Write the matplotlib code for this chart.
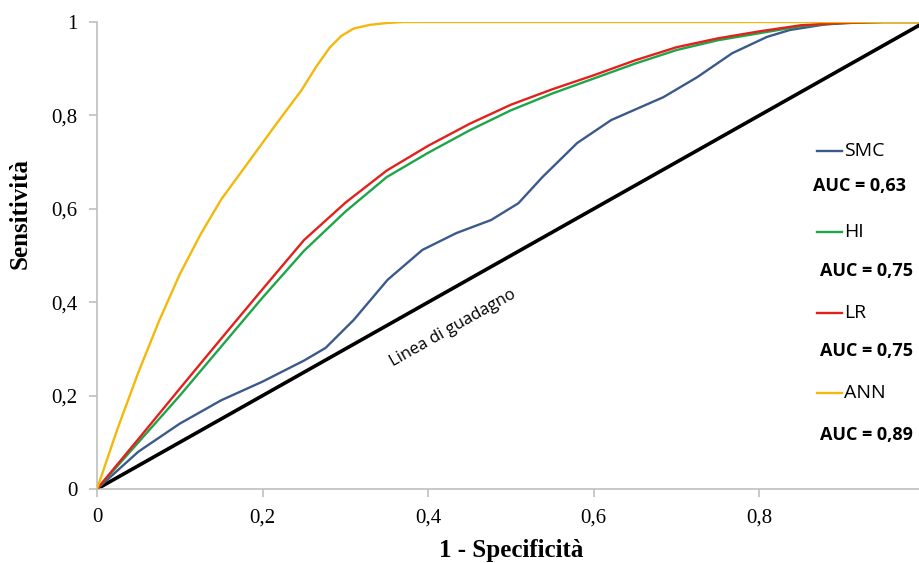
import numpy as np
import matplotlib
matplotlib.use('Agg')
import matplotlib.pyplot as plt

# ROC curves (x = 1 - specificity, y = sensitivity)
x_smc = [0, 0.05, 0.1, 0.15, 0.2, 0.25, 0.276, 0.31, 0.351, 0.393, 0.434, 0.476, 0.509,
         0.538, 0.58, 0.621, 0.684, 0.725, 0.767, 0.809, 0.837, 0.88, 0.93, 1.0]
y_smc = [0, 0.08, 0.14, 0.19, 0.23, 0.275, 0.302, 0.362, 0.448, 0.512, 0.548, 0.576, 0.612,
         0.668, 0.741, 0.79, 0.839, 0.882, 0.933, 0.968, 0.983, 0.995, 1.0, 1.0]

x_hi = [0, 0.05, 0.1, 0.15, 0.2, 0.25, 0.3, 0.35, 0.4, 0.45, 0.5, 0.55, 0.6, 0.65, 0.7,
        0.75, 0.8, 0.85, 0.9, 0.95, 1.0]
y_hi = [0, 0.1, 0.2, 0.305, 0.41, 0.51, 0.594, 0.668, 0.72, 0.768, 0.811, 0.847, 0.879,
        0.911, 0.94, 0.961, 0.976, 0.991, 0.998, 1.0, 1.0]

x_lr = [0, 0.05, 0.1, 0.15, 0.2, 0.25, 0.3, 0.35, 0.4, 0.45, 0.5, 0.55, 0.6, 0.65, 0.7,
        0.75, 0.8, 0.85, 0.9, 0.95, 1.0]
y_lr = [0, 0.107, 0.215, 0.322, 0.428, 0.533, 0.613, 0.682, 0.735, 0.782, 0.823, 0.856, 0.886,
        0.918, 0.946, 0.965, 0.98, 0.993, 0.998, 1.0, 1.0]

x_ann = [0, 0.025, 0.05, 0.075, 0.1, 0.125, 0.15, 0.185, 0.215, 0.247, 0.265, 0.281,
         0.295, 0.31, 0.33, 0.351, 0.37, 1.0]
y_ann = [0, 0.13, 0.25, 0.36, 0.46, 0.545, 0.62, 0.705, 0.778, 0.854, 0.905, 0.945,
         0.97, 0.986, 0.994, 0.998, 1.0, 1.0]

x_diag = [0, 1]
y_diag = [0, 1]

names = ['SMC', 'HI', 'LR', 'ANN']
auc_labels = ['AUC = 0,63', 'AUC = 0,75', 'AUC = 0,75', 'AUC = 0,89']
colors = ['#3b5a8a', '#1ea54a', '#e3211c', '#f2b90c']

ticks = [0, 0.2, 0.4, 0.6, 0.8, 1]
tick_labels = ['0', '0,2', '0,4', '0,6', '0,8', '1']

fig = plt.figure(figsize=(9.2, 5.63), dpi=100)
ax = fig.add_axes([97/920, 74/563, 828/920, 467/563])

ax.plot(x_diag, y_diag, color='black', lw=2.6, zorder=2)
ax.plot(x_smc, y_smc, color=colors[0], lw=1.7, zorder=3)
ax.plot(x_hi, y_hi, color=colors[1], lw=1.7, zorder=3)
ax.plot(x_lr, y_lr, color=colors[2], lw=1.7, zorder=3)
ax.plot(x_ann, y_ann, color=colors[3], lw=1.7, zorder=3)

ax.set_xlim(0, 1)
ax.set_ylim(0, 1)
ax.set_xticks(ticks)
ax.set_xticklabels(tick_labels)
ax.set_yticks(ticks)
ax.set_yticklabels(tick_labels)
for s in ['top', 'right']:
    ax.spines[s].set_visible(False)
for s in ['left', 'bottom']:
    ax.spines[s].set_color('#bfbfbf')
    ax.spines[s].set_linewidth(1.2)
ax.tick_params(direction='out', length=6, width=1.2, color='#bfbfbf',
               labelsize=15, pad=8)
for lab in ax.get_xticklabels() + ax.get_yticklabels():
    lab.set_family('Liberation Serif')

ax.set_xlabel('1 - Specificità', family='Liberation Serif', fontweight='bold', fontsize=18)
ax.set_ylabel('Sensitività', family='Liberation Serif', fontweight='bold', fontsize=18)
ax.xaxis.set_label_coords(0.5, -0.108)
ax.yaxis.set_label_coords(-0.079, 0.589)

ax.text(0.43, 0.345, 'Linea di guadagno', rotation=29.4, family='Open Sans',
        fontsize=12, ha='center', va='center')

# manual legend with AUC values
leg_y = [0.724, 0.55, 0.377, 0.206]
auc_y = [0.649, 0.467, 0.296, 0.116]
for i in range(4):
    ax.plot([0.870, 0.900], [leg_y[i], leg_y[i]], color=colors[i], lw=1.7,
            transform=ax.transAxes, clip_on=False)
    ax.text(0.902, leg_y[i], names[i], family='Open Sans', fontsize=14,
            va='center', ha='left', transform=ax.transAxes)
    ax.text(0.865 if i == 0 else 0.873, auc_y[i], auc_labels[i], family='Open Sans',
            fontsize=13, fontweight='bold', va='center', ha='left',
            transform=ax.transAxes)

fig.savefig('out.png', dpi=100)
